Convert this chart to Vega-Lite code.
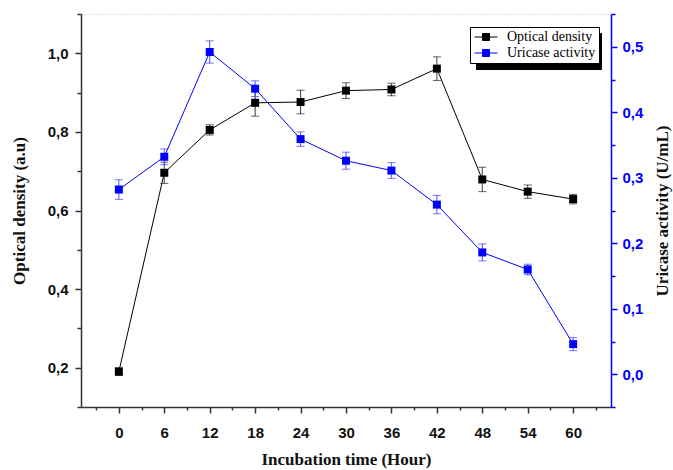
{
  "$schema": "https://vega.github.io/schema/vega-lite/v6.json",
  "width": 530,
  "height": 393,
  "autosize": {"type": "none"},
  "padding": {"left": 81, "top": 14, "right": 62, "bottom": 63},
  "config": {
    "view": {"stroke": "#c8c8c8", "strokeDash": [1, 2]},
    "axis": {"grid": false}
  },
  "data": {
    "values": [
      {"t": 0, "series": "Optical density", "v": 0.190, "lo": 0.180, "hi": 0.200},
      {"t": 6, "series": "Optical density", "v": 0.696, "lo": 0.669, "hi": 0.723},
      {"t": 12, "series": "Optical density", "v": 0.805, "lo": 0.792, "hi": 0.818},
      {"t": 18, "series": "Optical density", "v": 0.874, "lo": 0.840, "hi": 0.908},
      {"t": 24, "series": "Optical density", "v": 0.876, "lo": 0.846, "hi": 0.906},
      {"t": 30, "series": "Optical density", "v": 0.905, "lo": 0.885, "hi": 0.925},
      {"t": 36, "series": "Optical density", "v": 0.908, "lo": 0.892, "hi": 0.924},
      {"t": 42, "series": "Optical density", "v": 0.961, "lo": 0.931, "hi": 0.991},
      {"t": 48, "series": "Optical density", "v": 0.679, "lo": 0.648, "hi": 0.710},
      {"t": 54, "series": "Optical density", "v": 0.648, "lo": 0.631, "hi": 0.665},
      {"t": 60, "series": "Optical density", "v": 0.629, "lo": 0.617, "hi": 0.641},
      {"t": 0, "series": "Uricase activity", "v": 0.282, "lo": 0.267, "hi": 0.297},
      {"t": 6, "series": "Uricase activity", "v": 0.332, "lo": 0.320, "hi": 0.344},
      {"t": 12, "series": "Uricase activity", "v": 0.492, "lo": 0.475, "hi": 0.509},
      {"t": 18, "series": "Uricase activity", "v": 0.436, "lo": 0.424, "hi": 0.448},
      {"t": 24, "series": "Uricase activity", "v": 0.359, "lo": 0.348, "hi": 0.370},
      {"t": 30, "series": "Uricase activity", "v": 0.326, "lo": 0.313, "hi": 0.339},
      {"t": 36, "series": "Uricase activity", "v": 0.311, "lo": 0.299, "hi": 0.323},
      {"t": 42, "series": "Uricase activity", "v": 0.259, "lo": 0.245, "hi": 0.273},
      {"t": 48, "series": "Uricase activity", "v": 0.186, "lo": 0.173, "hi": 0.199},
      {"t": 54, "series": "Uricase activity", "v": 0.160, "lo": 0.152, "hi": 0.168},
      {"t": 60, "series": "Uricase activity", "v": 0.046, "lo": 0.036, "hi": 0.056}
    ]
  },
  "encoding": {
    "x": {
      "field": "t",
      "type": "quantitative",
      "scale": {"domain": [-5, 65], "nice": false, "zero": false},
      "axis": {
        "title": "Incubation time (Hour)",
        "values": [-3, 0, 3, 6, 9, 12, 15, 18, 21, 24, 27, 30, 33, 36, 39, 42, 45, 48, 51, 54, 57, 60, 63],
        "labelExpr": "datum.value % 6 === 0 ? datum.label : ''",
        "tickSize": {"condition": {"test": "datum.value % 6 === 0", "value": 6}, "value": 3},
        "labelPadding": 12,
        "labelFont": "Liberation Sans",
        "labelFontWeight": "bold",
        "labelFontSize": 15,
        "labelColor": "#111111",
        "domainColor": "#333333",
        "domainWidth": 1.5,
        "tickColor": "#333333",
        "tickWidth": 1.5,
        "titleFont": "Liberation Serif",
        "titleFontWeight": "bold",
        "titleFontSize": 17,
        "titleColor": "#111111",
        "titlePadding": 11
      }
    }
  },
  "layer": [
    {
      "transform": [{"filter": "datum.series === 'Optical density'"}],
      "layer": [
        {
          "mark": {"type": "rule", "color": "#222222", "strokeWidth": 1},
          "encoding": {
            "y": {
              "field": "lo", "type": "quantitative",
              "scale": {"domain": [0.1, 1.1], "nice": false, "zero": false},
              "axis": {"title": "Optical density (a.u)", "orient": "left", "values": [0.1, 0.2, 0.3, 0.4, 0.5, 0.6, 0.7, 0.8, 0.9, 1.0, 1.1], "labelExpr": "round(datum.value * 10) % 2 === 0 ? replace(format(datum.value, '.1f'), '.', ',') : ''", "tickSize": {"condition": {"test": "round(datum.value * 10) % 2 === 0", "value": 6}, "value": 4}, "labelPadding": 7, "labelFont": "Liberation Sans", "labelFontWeight": "bold", "labelFontSize": 15, "labelColor": "#111111", "domainColor": "#333333", "domainWidth": 1.5, "tickColor": "#333333", "tickWidth": 1.5, "titleFont": "Liberation Serif", "titleFontWeight": "bold", "titleFontSize": 17, "titleColor": "#111111", "titlePadding": 19}
            },
            "y2": {"field": "hi"},
            "strokeDash": {
              "field": "series", "type": "nominal",
              "scale": {"range": [[1, 0], [1, 0]]},
              "legend": {"orient": "none", "legendX": 395, "legendY": 19, "title": null, "fillColor": "#000000", "strokeColor": "#000000", "labelExpr": "' '", "labelOpacity": 0, "symbolOpacity": 0, "labelFont": "Liberation Serif", "labelFontSize": 14, "symbolType": "M-2.3,0H2.3M-0.7,-0.7H0.7V0.7H-0.7Z", "symbolSize": 100, "symbolOffset": 6, "labelOffset": 99, "padding": 3, "rowPadding": 2}
            }
          }
        },
        {
          "mark": {"type": "tick", "orient": "horizontal", "size": 8, "thickness": 1, "color": "#222222"},
          "encoding": {
            "y": {
              "field": "lo", "type": "quantitative",
              "scale": {"domain": [0.1, 1.1], "nice": false, "zero": false},
              "axis": {"title": "Optical density (a.u)", "orient": "left", "values": [0.1, 0.2, 0.3, 0.4, 0.5, 0.6, 0.7, 0.8, 0.9, 1.0, 1.1], "labelExpr": "round(datum.value * 10) % 2 === 0 ? replace(format(datum.value, '.1f'), '.', ',') : ''", "tickSize": {"condition": {"test": "round(datum.value * 10) % 2 === 0", "value": 6}, "value": 4}, "labelPadding": 7, "labelFont": "Liberation Sans", "labelFontWeight": "bold", "labelFontSize": 15, "labelColor": "#111111", "domainColor": "#333333", "domainWidth": 1.5, "tickColor": "#333333", "tickWidth": 1.5, "titleFont": "Liberation Serif", "titleFontWeight": "bold", "titleFontSize": 17, "titleColor": "#111111", "titlePadding": 19}
            }
          }
        },
        {
          "mark": {"type": "tick", "orient": "horizontal", "size": 8, "thickness": 1, "color": "#222222"},
          "encoding": {
            "y": {
              "field": "hi", "type": "quantitative",
              "scale": {"domain": [0.1, 1.1], "nice": false, "zero": false},
              "axis": {"title": "Optical density (a.u)", "orient": "left", "values": [0.1, 0.2, 0.3, 0.4, 0.5, 0.6, 0.7, 0.8, 0.9, 1.0, 1.1], "labelExpr": "round(datum.value * 10) % 2 === 0 ? replace(format(datum.value, '.1f'), '.', ',') : ''", "tickSize": {"condition": {"test": "round(datum.value * 10) % 2 === 0", "value": 6}, "value": 4}, "labelPadding": 7, "labelFont": "Liberation Sans", "labelFontWeight": "bold", "labelFontSize": 15, "labelColor": "#111111", "domainColor": "#333333", "domainWidth": 1.5, "tickColor": "#333333", "tickWidth": 1.5, "titleFont": "Liberation Serif", "titleFontWeight": "bold", "titleFontSize": 17, "titleColor": "#111111", "titlePadding": 19}
            }
          }
        },
        {
          "mark": {"type": "line", "strokeWidth": 1},
          "encoding": {
            "y": {
              "field": "v", "type": "quantitative",
              "scale": {"domain": [0.1, 1.1], "nice": false, "zero": false},
              "axis": {"title": "Optical density (a.u)", "orient": "left", "values": [0.1, 0.2, 0.3, 0.4, 0.5, 0.6, 0.7, 0.8, 0.9, 1.0, 1.1], "labelExpr": "round(datum.value * 10) % 2 === 0 ? replace(format(datum.value, '.1f'), '.', ',') : ''", "tickSize": {"condition": {"test": "round(datum.value * 10) % 2 === 0", "value": 6}, "value": 4}, "labelPadding": 7, "labelFont": "Liberation Sans", "labelFontWeight": "bold", "labelFontSize": 15, "labelColor": "#111111", "domainColor": "#333333", "domainWidth": 1.5, "tickColor": "#333333", "tickWidth": 1.5, "titleFont": "Liberation Serif", "titleFontWeight": "bold", "titleFontSize": 17, "titleColor": "#111111", "titlePadding": 19}
            },
            "color": {
              "field": "series", "type": "nominal",
              "scale": {"domain": ["Optical density", "Uricase activity"], "range": ["#000000", "#0000ff"]},
              "legend": {"orient": "none", "legendX": 389, "legendY": 13, "title": null, "fillColor": "#ffffff", "strokeColor": "#000000", "labelFont": "Liberation Serif", "labelFontSize": 14, "labelColor": "#000000", "symbolType": "M-2.3,0H2.3M-0.7,-0.7H0.7V0.7H-0.7Z", "symbolSize": 100, "symbolOffset": 6, "labelOffset": 14, "symbolStrokeWidth": 1, "padding": 3, "rowPadding": 2}
            }
          }
        },
        {
          "mark": {"type": "point", "shape": "square", "filled": true, "size": 64, "opacity": 1},
          "encoding": {
            "y": {
              "field": "v", "type": "quantitative",
              "scale": {"domain": [0.1, 1.1], "nice": false, "zero": false},
              "axis": {"title": "Optical density (a.u)", "orient": "left", "values": [0.1, 0.2, 0.3, 0.4, 0.5, 0.6, 0.7, 0.8, 0.9, 1.0, 1.1], "labelExpr": "round(datum.value * 10) % 2 === 0 ? replace(format(datum.value, '.1f'), '.', ',') : ''", "tickSize": {"condition": {"test": "round(datum.value * 10) % 2 === 0", "value": 6}, "value": 4}, "labelPadding": 7, "labelFont": "Liberation Sans", "labelFontWeight": "bold", "labelFontSize": 15, "labelColor": "#111111", "domainColor": "#333333", "domainWidth": 1.5, "tickColor": "#333333", "tickWidth": 1.5, "titleFont": "Liberation Serif", "titleFontWeight": "bold", "titleFontSize": 17, "titleColor": "#111111", "titlePadding": 19}
            },
            "color": {
              "field": "series", "type": "nominal",
              "scale": {"domain": ["Optical density", "Uricase activity"], "range": ["#000000", "#0000ff"]},
              "legend": {"orient": "none", "legendX": 389, "legendY": 13, "title": null, "fillColor": "#ffffff", "strokeColor": "#000000", "labelFont": "Liberation Serif", "labelFontSize": 14, "labelColor": "#000000", "symbolType": "M-2.3,0H2.3M-0.7,-0.7H0.7V0.7H-0.7Z", "symbolSize": 100, "symbolOffset": 6, "labelOffset": 14, "symbolStrokeWidth": 1, "padding": 3, "rowPadding": 2}
            }
          }
        }
      ]
    },
    {
      "transform": [{"filter": "datum.series === 'Uricase activity'"}],
      "layer": [
        {
          "mark": {"type": "rule", "color": "#3a3aff", "strokeWidth": 1},
          "encoding": {
            "y": {
              "field": "lo", "type": "quantitative",
              "scale": {"domain": [-0.05, 0.55], "nice": false, "zero": false},
              "axis": {"title": "Uricase activity (U/mL)", "orient": "right", "values": [-0.05, 0, 0.05, 0.1, 0.15, 0.2, 0.25, 0.3, 0.35, 0.4, 0.45, 0.5, 0.55], "labelExpr": "round(datum.value * 100) % 10 === 0 ? replace(format(datum.value, '.1f'), '.', ',') : ''", "tickSize": {"condition": {"test": "round(datum.value * 100) % 10 === 0", "value": 6}, "value": 4}, "labelPadding": 5, "labelFont": "Liberation Sans", "labelFontWeight": "bold", "labelFontSize": 15, "labelColor": "#0000ff", "domainColor": "#0000ff", "domainWidth": 1.5, "tickColor": "#0000ff", "tickWidth": 1.5, "titleFont": "Liberation Serif", "titleFontWeight": "bold", "titleFontSize": 17, "titleColor": "#111111", "titleAngle": 270, "titlePadding": 29}
            },
            "y2": {"field": "hi"},
            "strokeDash": {
              "field": "series", "type": "nominal",
              "scale": {"range": [[1, 0], [1, 0]]},
              "legend": {"orient": "none", "legendX": 395, "legendY": 19, "title": null, "fillColor": "#000000", "strokeColor": "#000000", "labelExpr": "' '", "labelOpacity": 0, "symbolOpacity": 0, "labelFont": "Liberation Serif", "labelFontSize": 14, "symbolType": "M-2.3,0H2.3M-0.7,-0.7H0.7V0.7H-0.7Z", "symbolSize": 100, "symbolOffset": 6, "labelOffset": 99, "padding": 3, "rowPadding": 2}
            }
          }
        },
        {
          "mark": {"type": "tick", "orient": "horizontal", "size": 8, "thickness": 1, "color": "#3a3aff"},
          "encoding": {
            "y": {
              "field": "lo", "type": "quantitative",
              "scale": {"domain": [-0.05, 0.55], "nice": false, "zero": false},
              "axis": {"title": "Uricase activity (U/mL)", "orient": "right", "values": [-0.05, 0, 0.05, 0.1, 0.15, 0.2, 0.25, 0.3, 0.35, 0.4, 0.45, 0.5, 0.55], "labelExpr": "round(datum.value * 100) % 10 === 0 ? replace(format(datum.value, '.1f'), '.', ',') : ''", "tickSize": {"condition": {"test": "round(datum.value * 100) % 10 === 0", "value": 6}, "value": 4}, "labelPadding": 5, "labelFont": "Liberation Sans", "labelFontWeight": "bold", "labelFontSize": 15, "labelColor": "#0000ff", "domainColor": "#0000ff", "domainWidth": 1.5, "tickColor": "#0000ff", "tickWidth": 1.5, "titleFont": "Liberation Serif", "titleFontWeight": "bold", "titleFontSize": 17, "titleColor": "#111111", "titleAngle": 270, "titlePadding": 29}
            }
          }
        },
        {
          "mark": {"type": "tick", "orient": "horizontal", "size": 8, "thickness": 1, "color": "#3a3aff"},
          "encoding": {
            "y": {
              "field": "hi", "type": "quantitative",
              "scale": {"domain": [-0.05, 0.55], "nice": false, "zero": false},
              "axis": {"title": "Uricase activity (U/mL)", "orient": "right", "values": [-0.05, 0, 0.05, 0.1, 0.15, 0.2, 0.25, 0.3, 0.35, 0.4, 0.45, 0.5, 0.55], "labelExpr": "round(datum.value * 100) % 10 === 0 ? replace(format(datum.value, '.1f'), '.', ',') : ''", "tickSize": {"condition": {"test": "round(datum.value * 100) % 10 === 0", "value": 6}, "value": 4}, "labelPadding": 5, "labelFont": "Liberation Sans", "labelFontWeight": "bold", "labelFontSize": 15, "labelColor": "#0000ff", "domainColor": "#0000ff", "domainWidth": 1.5, "tickColor": "#0000ff", "tickWidth": 1.5, "titleFont": "Liberation Serif", "titleFontWeight": "bold", "titleFontSize": 17, "titleColor": "#111111", "titleAngle": 270, "titlePadding": 29}
            }
          }
        },
        {
          "mark": {"type": "line", "strokeWidth": 1},
          "encoding": {
            "y": {
              "field": "v", "type": "quantitative",
              "scale": {"domain": [-0.05, 0.55], "nice": false, "zero": false},
              "axis": {"title": "Uricase activity (U/mL)", "orient": "right", "values": [-0.05, 0, 0.05, 0.1, 0.15, 0.2, 0.25, 0.3, 0.35, 0.4, 0.45, 0.5, 0.55], "labelExpr": "round(datum.value * 100) % 10 === 0 ? replace(format(datum.value, '.1f'), '.', ',') : ''", "tickSize": {"condition": {"test": "round(datum.value * 100) % 10 === 0", "value": 6}, "value": 4}, "labelPadding": 5, "labelFont": "Liberation Sans", "labelFontWeight": "bold", "labelFontSize": 15, "labelColor": "#0000ff", "domainColor": "#0000ff", "domainWidth": 1.5, "tickColor": "#0000ff", "tickWidth": 1.5, "titleFont": "Liberation Serif", "titleFontWeight": "bold", "titleFontSize": 17, "titleColor": "#111111", "titleAngle": 270, "titlePadding": 29}
            },
            "color": {
              "field": "series", "type": "nominal",
              "scale": {"domain": ["Optical density", "Uricase activity"], "range": ["#000000", "#0000ff"]},
              "legend": {"orient": "none", "legendX": 389, "legendY": 13, "title": null, "fillColor": "#ffffff", "strokeColor": "#000000", "labelFont": "Liberation Serif", "labelFontSize": 14, "labelColor": "#000000", "symbolType": "M-2.3,0H2.3M-0.7,-0.7H0.7V0.7H-0.7Z", "symbolSize": 100, "symbolOffset": 6, "labelOffset": 14, "symbolStrokeWidth": 1, "padding": 3, "rowPadding": 2}
            }
          }
        },
        {
          "mark": {"type": "point", "shape": "square", "filled": true, "size": 64, "opacity": 1},
          "encoding": {
            "y": {
              "field": "v", "type": "quantitative",
              "scale": {"domain": [-0.05, 0.55], "nice": false, "zero": false},
              "axis": {"title": "Uricase activity (U/mL)", "orient": "right", "values": [-0.05, 0, 0.05, 0.1, 0.15, 0.2, 0.25, 0.3, 0.35, 0.4, 0.45, 0.5, 0.55], "labelExpr": "round(datum.value * 100) % 10 === 0 ? replace(format(datum.value, '.1f'), '.', ',') : ''", "tickSize": {"condition": {"test": "round(datum.value * 100) % 10 === 0", "value": 6}, "value": 4}, "labelPadding": 5, "labelFont": "Liberation Sans", "labelFontWeight": "bold", "labelFontSize": 15, "labelColor": "#0000ff", "domainColor": "#0000ff", "domainWidth": 1.5, "tickColor": "#0000ff", "tickWidth": 1.5, "titleFont": "Liberation Serif", "titleFontWeight": "bold", "titleFontSize": 17, "titleColor": "#111111", "titleAngle": 270, "titlePadding": 29}
            },
            "color": {
              "field": "series", "type": "nominal",
              "scale": {"domain": ["Optical density", "Uricase activity"], "range": ["#000000", "#0000ff"]},
              "legend": {"orient": "none", "legendX": 389, "legendY": 13, "title": null, "fillColor": "#ffffff", "strokeColor": "#000000", "labelFont": "Liberation Serif", "labelFontSize": 14, "labelColor": "#000000", "symbolType": "M-2.3,0H2.3M-0.7,-0.7H0.7V0.7H-0.7Z", "symbolSize": 100, "symbolOffset": 6, "labelOffset": 14, "symbolStrokeWidth": 1, "padding": 3, "rowPadding": 2}
            }
          }
        }
      ]
    }
  ],
  "resolve": {"scale": {"y": "independent"}, "axis": {"y": "independent"}}
}
